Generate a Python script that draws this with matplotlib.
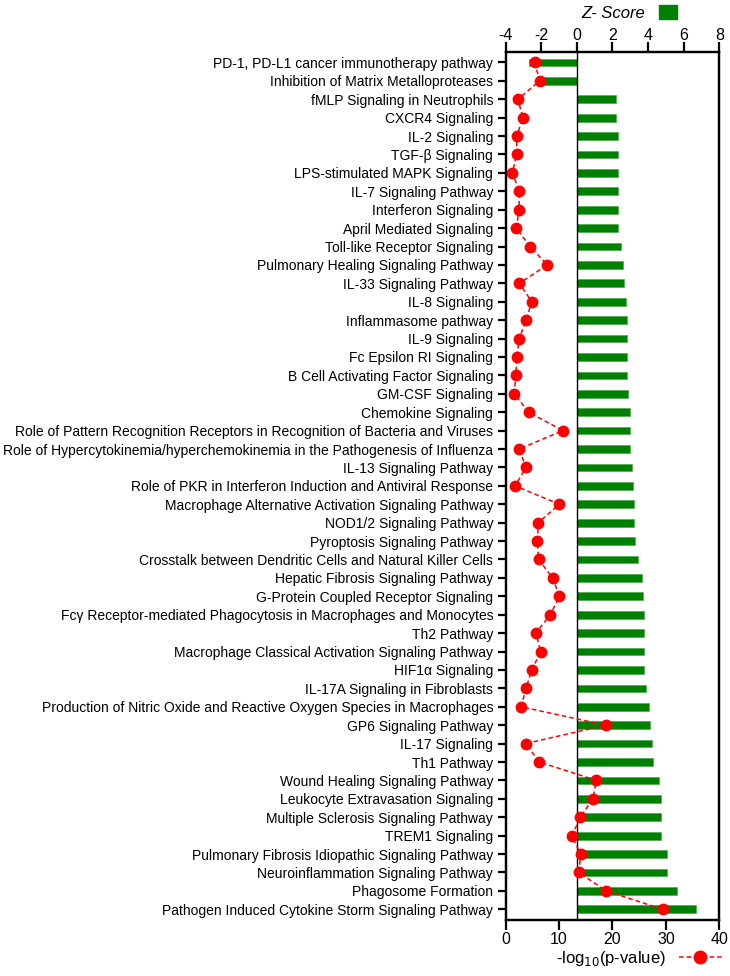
import numpy as np
import matplotlib
matplotlib.use("Agg")
import matplotlib.pyplot as plt
from matplotlib.patches import Patch
from matplotlib.lines import Line2D

plt.rcParams['font.family'] = ['Liberation Sans', 'DejaVu Sans']
plt.rcParams['axes.unicode_minus'] = False

# Pathways (top to bottom)
pathways = [
    "PD-1, PD-L1 cancer immunotherapy pathway",
    "Inhibition of Matrix Metalloproteases",
    "fMLP Signaling in Neutrophils",
    "CXCR4 Signaling",
    "IL-2 Signaling",
    "TGF-β Signaling",
    "LPS-stimulated MAPK Signaling",
    "IL-7 Signaling Pathway",
    "Interferon Signaling",
    "April Mediated Signaling",
    "Toll-like Receptor Signaling",
    "Pulmonary Healing Signaling Pathway",
    "IL-33 Signaling Pathway",
    "IL-8 Signaling",
    "Inflammasome pathway",
    "IL-9 Signaling",
    "Fc Epsilon RI Signaling",
    "B Cell Activating Factor Signaling",
    "GM-CSF Signaling",
    "Chemokine Signaling",
    "Role of Pattern Recognition Receptors in Recognition of Bacteria and Viruses",
    "Role of Hypercytokinemia/hyperchemokinemia in the Pathogenesis of Influenza",
    "IL-13 Signaling Pathway",
    "Role of PKR in Interferon Induction and Antiviral Response",
    "Macrophage Alternative Activation Signaling Pathway",
    "NOD1/2 Signaling Pathway",
    "Pyroptosis Signaling Pathway",
    "Crosstalk between Dendritic Cells and Natural Killer Cells",
    "Hepatic Fibrosis Signaling Pathway",
    "G-Protein Coupled Receptor Signaling",
    "Fcγ Receptor-mediated Phagocytosis in Macrophages and Monocytes",
    "Th2 Pathway",
    "Macrophage Classical Activation Signaling Pathway",
    "HIF1α Signaling",
    "IL-17A Signaling in Fibroblasts",
    "Production of Nitric Oxide and Reactive Oxygen Species in Macrophages",
    "GP6 Signaling Pathway",
    "IL-17 Signaling",
    "Th1 Pathway",
    "Wound Healing Signaling Pathway",
    "Leukocyte Extravasation Signaling",
    "Multiple Sclerosis Signaling Pathway",
    "TREM1 Signaling",
    "Pulmonary Fibrosis Idiopathic Signaling Pathway",
    "Neuroinflammation Signaling Pathway",
    "Phagosome Formation",
    "Pathogen Induced Cytokine Storm Signaling Pathway",
]

# Z-scores (bars, top axis)
z_scores = [
    -2.71, -2.02, 2.18, 2.2, 2.29, 2.29, 2.29, 2.33, 2.33, 2.33,
    2.48, 2.57, 2.65, 2.74, 2.81, 2.81, 2.81, 2.81, 2.87, 2.98,
    2.98, 3.0, 3.11, 3.15, 3.22, 3.22, 3.24, 3.45, 3.66, 3.69,
    3.77, 3.77, 3.77, 3.77, 3.9, 4.03, 4.12, 4.24, 4.25, 4.61,
    4.7, 4.72, 4.74, 5.04, 5.08, 5.6, 6.69,
]

# -log10(p-value) (dots, bottom axis)
neg_log_p = [
    5.4, 6.4, 2.3, 3.2, 2.1, 2.05, 1.25, 2.55, 2.5, 2.0,
    4.55, 7.8, 2.55, 4.9, 3.8, 2.55, 2.1, 1.9, 1.6, 4.3,
    10.7, 2.55, 3.8, 1.75, 10.05, 6.1, 5.95, 6.15, 8.8, 10.05,
    8.35, 5.65, 6.55, 4.9, 3.8, 2.9, 18.75, 3.75, 6.3, 17.0,
    16.3, 14.0, 12.4, 14.05, 13.7, 18.8, 29.4,
]

y = np.arange(len(pathways))

fig = plt.figure(figsize=(7.3, 9.76), dpi=100)
ax = fig.add_axes([0.6927, 0.0574, 0.2926, 0.8896])

ax.barh(y, z_scores, height=0.42, color="#008000", edgecolor="#3da63d", linewidth=0.4, zorder=2)
ax.axvline(0, color="black", linewidth=1.0, zorder=3)
ax.set_xlim(-4, 8)
ax.set_ylim(len(pathways) - 0.42, -0.58)
ax.set_yticks(y)
ax.set_yticklabels(pathways, fontsize=10)

ax2 = ax.twiny()
ax2.plot(neg_log_p, y, color="#ff0000", linestyle=(0, (3, 2)), linewidth=1.1,
         marker="o", markersize=7.5, zorder=4)
ax2.set_xlim(0, 40)
ax2.set_xticks(np.arange(0, 41, 10))
ax2.set_ylim(ax.get_ylim())

# Z-score axis on top, p-value axis on bottom
ax.xaxis.tick_top()
ax.set_xticks(np.arange(-4, 9, 2))
ax2.xaxis.tick_bottom()

for a in (ax, ax2):
    for s in a.spines.values():
        s.set_linewidth(1.6)
    a.tick_params(axis="x", width=1.6, length=7, labelsize=11.5)
ax.tick_params(axis="x", pad=-1)
ax2.tick_params(axis="x", pad=1.5)
ax.tick_params(axis="y", width=1.6, length=6, pad=3)

# legends
fig.legend(handles=[Patch(color="#008000")], labels=["Z- Score"],
           loc="center", bbox_to_anchor=(0.862, 0.987), frameon=False,
           markerfirst=False, handlelength=1.1, handleheight=0.9,
           prop={"style": "italic", "size": 12})
fig.legend(handles=[Line2D([0], [0], color="#ff0000", linestyle=(0, (3, 2)),
                           marker="o", markersize=9, linewidth=1.1)],
           labels=["-log$_{10}$(p-value)"],
           loc="center", bbox_to_anchor=(0.875, 0.018), frameon=False,
           markerfirst=False, handlelength=2.6, prop={"size": 12})

fig.savefig("out.png", dpi=100)
